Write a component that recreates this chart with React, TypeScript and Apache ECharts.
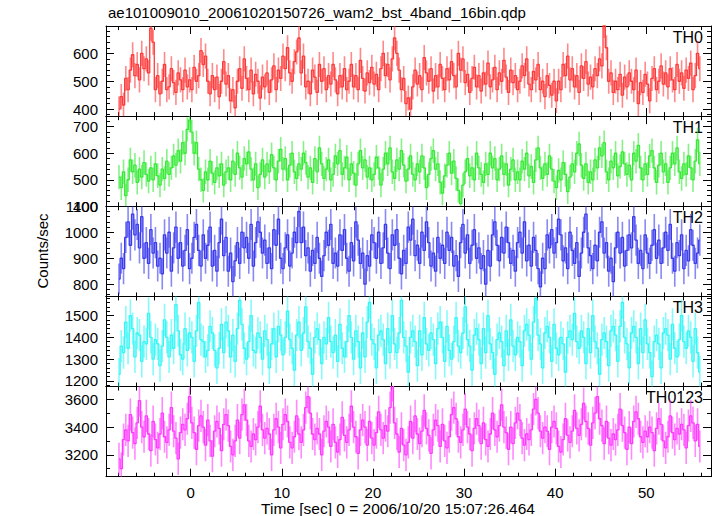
import React, { useEffect, useRef } from "react";
import * as echarts from "echarts";

// ---- data (0.25 s bins starting at t = -8 s) ----
const T0 = -8;
const DT = 0.25;

const th0: number[] = [
  400, 445, 415, 510, 470, 540, 595, 520, 560, 505, 600, 545, 580, 530, 690, 640,
  470, 520, 455, 500, 560, 470, 480, 545, 495, 460, 530, 505, 470, 540, 480, 505,
  470, 550, 500, 520, 610, 560, 590, 500, 455, 520, 470, 515, 445, 500, 570, 490,
  520, 430, 470, 405, 500, 545, 475, 580, 510, 470, 540, 455, 525, 500, 440, 515,
  480, 530, 460, 505, 555, 470, 540, 510, 590, 545, 620, 530, 500, 570, 605, 655,
  530, 590, 480, 500, 455, 540, 515, 460, 560, 500, 545, 470, 520, 490, 560, 505,
  455, 520, 480, 545, 470, 500, 560, 480, 520, 470, 575, 510, 465, 530, 495, 550,
  490, 525, 470, 545, 600, 520, 560, 505, 580, 655, 600, 540, 470, 510, 420, 440,
  400, 480, 540, 490, 520, 470, 585, 530, 500, 545, 465, 520, 480, 560, 510, 470,
  545, 505, 570, 520, 480, 600, 540, 580, 495, 525, 460, 510, 550, 480, 520, 465,
  530, 490, 565, 480, 505, 550, 470, 530, 500, 575, 515, 460, 540, 495, 520, 470,
  500, 555, 520, 580, 490, 470, 535, 505, 560, 470, 500, 445, 520, 485, 450, 500,
  430, 500, 470, 560, 520, 590, 505, 545, 480, 520, 460, 555, 510, 570, 490, 515,
  480, 545, 520, 580, 555, 700, 620, 500, 530, 460, 500, 470, 525, 450, 515, 480,
  530, 500, 470, 540, 420, 495, 460, 525, 490, 430, 510, 545, 470, 500, 555, 490,
  530, 480, 545, 505, 470, 560, 500, 530, 475, 540, 510, 565, 470, 520, 600, 545,
];

const th1: number[] = [
  510, 470, 530, 440, 500, 575, 530, 555, 490, 540, 510, 565, 520, 495, 545, 500,
  560, 515, 480, 540, 505, 570, 520, 545, 590, 555, 610, 570, 640, 600, 690, 725,
  680, 600, 640, 540, 500, 460, 530, 500, 570, 525, 490, 545, 515, 560, 480, 530,
  545, 500, 570, 520, 600, 545, 510, 580, 560, 605, 540, 500, 560, 470, 520, 575,
  510, 560, 530, 595, 545, 500, 570, 615, 540, 580, 500, 555, 600, 530, 505, 560,
  540, 600, 565, 510, 545, 490, 580, 530, 620, 560, 505, 540, 575, 500, 520, 590,
  560, 610, 520, 545, 585, 500, 560, 525, 480, 560, 610, 545, 575, 510, 545, 500,
  520, 585, 545, 480, 540, 600, 560, 620, 530, 505, 575, 540, 610, 555, 495, 540,
  590, 520, 500, 560, 530, 590, 545, 470, 520, 580, 610, 540, 560, 490, 450, 515,
  555, 600, 525, 570, 505, 460, 410, 480, 530, 580, 515, 545, 500, 600, 545, 520,
  490, 560, 520, 600, 545, 580, 500, 540, 590, 520, 560, 480, 540, 575, 500, 530,
  500, 570, 540, 600, 515, 550, 490, 575, 620, 545, 505, 560, 520, 590, 540, 495,
  470, 535, 500, 565, 520, 455, 510, 560, 530, 600, 635, 555, 505, 560, 490, 530,
  500, 575, 545, 620, 590, 640, 530, 500, 570, 545, 600, 515, 550, 605, 560, 520,
  555, 500, 600, 570, 630, 545, 500, 560, 520, 590, 610, 545, 490, 555, 600, 530,
  560, 490, 545, 600, 560, 620, 530, 505, 560, 520, 590, 545, 500, 570, 650, 560,
];

const th2: number[] = [
  820, 900, 860, 980, 1040, 950, 1070, 990, 1030, 940, 1060, 900, 960, 880, 1010, 920,
  960, 870, 900, 840, 990, 920, 1000, 850, 940, 1020, 900, 960, 870, 930, 1010, 860,
  900, 980, 1030, 930, 870, 990, 900, 950, 1020, 870, 930, 850, 960, 1050, 910, 980,
  850, 920, 810, 890, 960, 880, 1000, 940, 980, 900, 1030, 870, 960, 1040, 1000, 920,
  970, 880, 940, 860, 1010, 950, 1050, 900, 860, 940, 990, 870, 920, 1000, 960, 1080,
  960, 1020, 910, 940, 850, 930, 880, 980, 900, 830, 910, 1000, 950, 1030, 880, 920,
  870, 990, 930, 1010, 900, 850, 960, 890, 1040, 970, 880, 920, 800, 910, 870, 990,
  960, 900, 1000, 880, 940, 1030, 920, 860, 990, 950, 1010, 900, 840, 930, 880, 1020,
  970, 1050, 910, 950, 880, 1000, 930, 1040, 960, 870, 920, 850, 980, 900, 950, 880,
  1000, 930, 980, 870, 910, 830, 960, 1030, 920, 990, 880, 950, 1010, 900, 940, 860,
  910, 800, 930, 870, 990, 1040, 950, 890, 980, 920, 1020, 960, 880, 930, 850, 960,
  1000, 920, 1040, 890, 950, 870, 980, 930, 860, 790, 900, 860, 990, 940, 1010, 920,
  960, 1050, 990, 890, 940, 860, 1000, 930, 880, 960, 830, 920, 1000, 1070, 940, 910,
  860, 950, 890, 1000, 1040, 920, 960, 850, 900, 810, 940, 1000, 920, 980, 870, 930,
  990, 940, 1060, 970, 880, 930, 860, 990, 920, 880, 950, 1010, 900, 970, 880, 940,
  1000, 930, 1030, 900, 850, 960, 910, 990, 860, 930, 890, 1010, 950, 880, 920, 970,
];

const th3: number[] = [
  1230, 1360, 1330, 1470, 1350, 1500, 1440, 1310, 1420, 1410, 1290, 1380, 1370, 1510, 1400, 1300,
  1390, 1370, 1270, 1360, 1480, 1400, 1310, 1410, 1350, 1550, 1430, 1320, 1300, 1440, 1340, 1420,
  1400, 1290, 1430, 1560, 1390, 1380, 1310, 1340, 1450, 1420, 1340, 1260, 1350, 1460, 1330, 1470,
  1430, 1310, 1410, 1290, 1440, 1570, 1460, 1350, 1300, 1380, 1500, 1340, 1330, 1420, 1400, 1300,
  1430, 1390, 1260, 1370, 1440, 1310, 1450, 1410, 1320, 1400, 1520, 1390, 1350, 1250, 1410, 1470,
  1340, 1420, 1540, 1380, 1350, 1230, 1400, 1440, 1390, 1280, 1400, 1370, 1490, 1380, 1330, 1410,
  1290, 1460, 1350, 1310, 1380, 1500, 1400, 1300, 1430, 1380, 1260, 1420, 1310, 1470, 1560, 1390,
  1370, 1260, 1410, 1430, 1390, 1280, 1440, 1330, 1500, 1370, 1330, 1420, 1570, 1400, 1360, 1240,
  1400, 1430, 1380, 1270, 1430, 1320, 1490, 1370, 1340, 1420, 1390, 1280, 1440, 1470, 1400, 1290,
  1450, 1340, 1300, 1380, 1490, 1360, 1330, 1420, 1540, 1390, 1360, 1250, 1410, 1440, 1390, 1280,
  1440, 1330, 1500, 1370, 1330, 1230, 1390, 1420, 1380, 1270, 1430, 1320, 1480, 1360, 1320, 1400,
  1380, 1270, 1430, 1460, 1410, 1300, 1470, 1580, 1410, 1370, 1260, 1420, 1450, 1400, 1290, 1460,
  1350, 1320, 1400, 1370, 1240, 1400, 1430, 1390, 1510, 1380, 1350, 1430, 1400, 1280, 1440, 1330,
  1500, 1380, 1350, 1230, 1390, 1420, 1380, 1270, 1430, 1450, 1410, 1290, 1450, 1560, 1400, 1370,
  1260, 1420, 1450, 1400, 1280, 1440, 1330, 1480, 1370, 1330, 1220, 1380, 1410, 1370, 1260, 1420,
  1440, 1410, 1300, 1460, 1350, 1310, 1390, 1500, 1380, 1350, 1430, 1400, 1290, 1440, 1330, 1240,
];

const th0123: number[] = [
  3170, 3100, 3310, 3380, 3300, 3490, 3360, 3280, 3430, 3590, 3400, 3330, 3480, 3350, 3230, 3440,
  3310, 3250, 3350, 3500, 3330, 3290, 3380, 3540, 3370, 3320, 3170, 3360, 3420, 3380, 3460, 3620,
  3430, 3360, 3240, 3410, 3480, 3400, 3270, 3450, 3300, 3190, 3370, 3440, 3390, 3230, 3420, 3490,
  3410, 3260, 3200, 3300, 3450, 3320, 3490, 3560, 3450, 3300, 3260, 3350, 3310, 3400, 3550, 3380,
  3320, 3390, 3350, 3200, 3380, 3460, 3400, 3250, 3420, 3490, 3440, 3290, 3250, 3330, 3480, 3350,
  3290, 3380, 3540, 3620, 3500, 3350, 3310, 3390, 3350, 3200, 3370, 3440, 3400, 3260, 3420, 3290,
  3220, 3310, 3470, 3340, 3290, 3380, 3550, 3400, 3330, 3210, 3380, 3450, 3400, 3270, 3440, 3320,
  3270, 3360, 3510, 3380, 3320, 3410, 3370, 3540, 3700, 3430, 3350, 3220, 3390, 3270, 3200, 3290,
  3440, 3320, 3480, 3350, 3280, 3370, 3520, 3390, 3340, 3210, 3380, 3450, 3410, 3260, 3420, 3300,
  3250, 3330, 3490, 3540, 3460, 3330, 3290, 3380, 3530, 3400, 3350, 3230, 3390, 3460, 3410, 3280,
  3430, 3310, 3260, 3350, 3500, 3380, 3330, 3410, 3560, 3400, 3360, 3240, 3400, 3280, 3430, 3500,
  3450, 3320, 3270, 3350, 3310, 3380, 3530, 3600, 3500, 3370, 3320, 3400, 3370, 3240, 3400, 3440,
  3390, 3260, 3220, 3310, 3460, 3340, 3290, 3370, 3520, 3390, 3340, 3420, 3570, 3440, 3390, 3270,
  3430, 3500, 3620, 3460, 3410, 3280, 3440, 3320, 3270, 3350, 3310, 3380, 3530, 3410, 3360, 3240,
  3400, 3280, 3440, 3510, 3460, 3330, 3290, 3370, 3330, 3400, 3360, 3230, 3390, 3460, 3420, 3300,
  3250, 3330, 3480, 3360, 3310, 3390, 3350, 3420, 3380, 3250, 3410, 3480, 3430, 3300, 3420, 3260,
];

const panelNames = ["TH0", "TH1", "TH2", "TH3", "TH0123"];
const panelValues = [th0, th1, th2, th3, th0123];
const errHalf = [45, 46, 60, 74, 116];
const yMin = [375, 400, 753, 1174, 3042];
const yMax = [698, 740, 1100, 1588, 3692];
const yMajor = [
  [400, 500, 600],
  [400, 500, 600, 700],
  [800, 900, 1000, 1100],
  [1200, 1300, 1400, 1500],
  [3200, 3400, 3600],
];
const yMinorStep = [20, 20, 20, 20, 100];
const xMin = -9.3;
const xMax = 57.1;
const xMajor = [0, 10, 20, 30, 40, 50];
const xMinorStep = 2;
const colors = ["#ff3a3a", "#36ea36", "#3a3aee", "#36f6f6", "#ff3aff"];

const titleText = "ae101009010_20061020150726_wam2_bst_4band_16bin.qdp";
const xLabelText = "Time [sec] 0 = 2006/10/20 15:07:26.464";
const yLabelText = "Counts/sec";

const FONT = "Liberation Sans, Arial, Helvetica, sans-serif";

function minorTicks(min: number, max: number, step: number, majors: number[]) {
  const out: number[] = [];
  const start = Math.ceil(min / step) * step;
  for (let v = start; v <= max + 1e-9; v += step) {
    if (!majors.some((m) => Math.abs(m - v) < 1e-6)) out.push(v);
  }
  return out;
}

export default function App() {
  const ref = useRef<HTMLDivElement>(null);
  useEffect(() => {
    document.body.style.margin = "0";
    if (!ref.current) return;
    const chart = echarts.init(ref.current, undefined, { renderer: "svg" });

    const L = 106, R = 711, TOP = 26, BOT = 476.7;
    const H = (BOT - TOP) / 5;

    const grids: any[] = [];
    const xAxes: any[] = [];
    const yAxes: any[] = [];
    const series: any[] = [];
    const graphics: any[] = [];
    const xMinors = minorTicks(xMin, xMax, xMinorStep, xMajor);
    const fmt = (v: number) => String(v);

    for (let i = 0; i < 5; i++) {
      grids.push({ left: L, width: R - L, top: TOP + i * H, height: H, show: false });
      const xBase = xAxes.length;
      const mkX = (pos: string, major: boolean, labels: boolean, line: boolean) => ({
        type: "value", gridIndex: i, min: xMin, max: xMax, position: pos,
        axisLine: { show: line, onZero: false, lineStyle: { color: "#000", width: 1 } },
        axisTick: { show: true, inside: true, length: major ? 8 : 4, customValues: major ? xMajor : xMinors, lineStyle: { color: "#000", width: 1 } },
        axisLabel: { show: labels, customValues: xMajor, formatter: fmt, color: "#000", fontSize: 15, fontFamily: FONT, margin: 8 },
        splitLine: { show: false },
      });
      xAxes.push(mkX("bottom", true, i === 4, true));
      xAxes.push(mkX("bottom", false, false, false));
      xAxes.push(mkX("top", true, false, true));
      xAxes.push(mkX("top", false, false, false));

      const yBase = yAxes.length;
      const yMinors = minorTicks(yMin[i], yMax[i], yMinorStep[i], yMajor[i]);
      const mkY = (pos: string, major: boolean, labels: boolean, line: boolean) => ({
        type: "value", gridIndex: i, min: yMin[i], max: yMax[i], position: pos,
        axisLine: { show: line, onZero: false, lineStyle: { color: "#000", width: 1 } },
        axisTick: { show: true, inside: true, length: major ? 8 : 4, customValues: major ? yMajor[i] : yMinors, lineStyle: { color: "#000", width: 1 } },
        axisLabel: { show: labels, customValues: yMajor[i], formatter: fmt, color: "#000", fontSize: 15, fontFamily: FONT, margin: 8, showMinLabel: true, showMaxLabel: true },
        splitLine: { show: false },
      });
      yAxes.push(mkY("left", true, true, true));
      yAxes.push(mkY("left", false, false, false));
      yAxes.push(mkY("right", true, false, true));
      yAxes.push(mkY("right", false, false, false));

      const vals = panelValues[i];
      const pts = vals.map((v, k) => [T0 + DT * (k + 0.5), v]);
      const errPts = vals.map((v, k) => [T0 + DT * (k + 0.5), v, errHalf[i]]);
      const col = colors[i];
      series.push({
        type: "custom", xAxisIndex: xBase, yAxisIndex: yBase, clip: true,
        data: errPts, encode: { x: 0, y: 1 }, silent: true,
        renderItem: (params: any, api: any) => {
          const x = api.value(0), y = api.value(1), e = api.value(2);
          const p1 = api.coord([x, y - e]);
          const p2 = api.coord([x, y + e]);
          return {
            type: "line",
            shape: { x1: p1[0], y1: p1[1], x2: p2[0], y2: p2[1] },
            style: { stroke: col, lineWidth: 1.6, opacity: 0.6 },
          };
        },
      });
      series.push({
        type: "line", xAxisIndex: xBase, yAxisIndex: yBase, data: pts, step: "middle",
        symbol: "none", clip: true, silent: true,
        lineStyle: { color: col, width: 1.3 },
      });

      graphics.push({
        type: "text", right: 717 - 703, top: TOP + i * H + 3,
        style: { text: panelNames[i], fontSize: 16, fontFamily: FONT, fill: "#000" },
      });
    }

    graphics.push({
      type: "text", left: 108, top: 5,
      style: { text: titleText, fontSize: 15, fontFamily: FONT, fill: "#000" },
    });
    graphics.push({
      type: "text", x: 398, y: 508,
      style: { text: xLabelText, fontSize: 15.5, fontFamily: FONT, fill: "#000", align: "center", verticalAlign: "middle" },
    });
    graphics.push({
      type: "text", x: 42, y: 251, rotation: Math.PI / 2,
      style: { text: yLabelText, fontSize: 15, fontFamily: FONT, fill: "#000", align: "center", verticalAlign: "middle" },
    });

    chart.setOption({
      animation: false,
      backgroundColor: "#fff",
      grid: grids,
      xAxis: xAxes,
      yAxis: yAxes,
      series,
      graphic: graphics,
    });
    return () => chart.dispose();
  }, []);
  return <div ref={ref} style={{ position: "fixed", left: 0, top: 0, width: 717, height: 516 }} />;
}
